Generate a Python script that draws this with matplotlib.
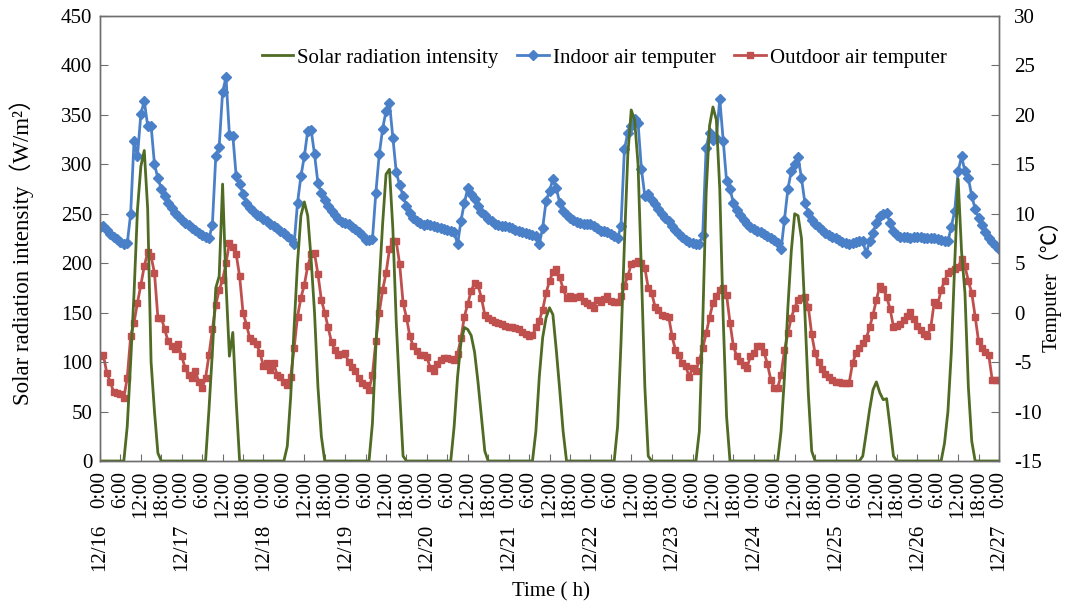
import matplotlib
matplotlib.use('Agg')
import matplotlib.pyplot as plt
import numpy as np
from matplotlib.transforms import blended_transform_factory
from matplotlib.lines import Line2D

# ---------------- data (hourly, 12/16 0:00 -> 12/27 0:00) ----------------
dates = ['12/16', '12/17', '12/18', '12/19', '12/20', '12/21',
         '12/22', '12/23', '12/24', '12/25', '12/26', '12/27']
hour_labels = ['0:00', '6:00', '12:00', '18:00']

solar = [
    0, 0, 0, 0, 0, 0, 0, 0, 35, 100, 170, 254, 298, 314, 255, 100, 50, 8, 0, 0, 0, 0, 0, 0,
    0, 0, 0, 0, 0, 0, 0, 0, 52, 110, 175, 187, 280, 180, 106, 130, 60, 0, 0, 0, 0, 0, 0, 0,
    0, 0, 0, 0, 0, 0, 0, 15, 65, 135, 200, 248, 262, 248, 204, 150, 75, 25, 0, 0, 0, 0, 0, 0,
    0, 0, 0, 0, 0, 0, 0, 0, 38, 115, 180, 240, 290, 295, 235, 140, 69, 5, 0, 0, 0, 0, 0, 0,
    0, 0, 0, 0, 0, 0, 0, 0, 35, 85, 120, 135, 133, 127, 110, 80, 45, 10, 0, 0, 0, 0, 0, 0,
    0, 0, 0, 0, 0, 0, 0, 0, 30, 85, 125, 145, 155, 148, 112, 72, 30, 0, 0, 0, 0, 0, 0, 0,
    0, 0, 0, 0, 0, 0, 0, 0, 35, 120, 220, 310, 355, 345, 300, 190, 75, 5, 0, 0, 0, 0, 0, 0,
    0, 0, 0, 0, 0, 0, 0, 0, 30, 140, 271, 339, 358, 345, 275, 145, 45, 0, 0, 0, 0, 0, 0, 0,
    0, 0, 0, 0, 0, 0, 0, 0, 30, 85, 155, 212, 250, 248, 225, 150, 69, 10, 0, 0, 0, 0, 0, 0,
    0, 0, 0, 0, 0, 0, 0, 0, 5, 28, 52, 72, 80, 69, 62, 63, 35, 5, 0, 0, 0, 0, 0, 0,
    0, 0, 0, 0, 0, 0, 0, 0, 18, 50, 110, 200, 285, 212, 170, 75, 20, 0, 0, 0, 0, 0, 0, 0,
    0,
]

indoor = [
    8.7, 8.8, 8.4, 8.0, 7.7, 7.4, 7.1, 6.9, 7.0, 10.0, 17.4, 15.8, 20.1, 21.4, 18.9, 18.9, 15.0, 13.6, 12.5, 11.8, 11.1, 10.6, 10.1, 9.8,
    9.4, 9.1, 8.85, 8.6, 8.4, 8.1, 7.9, 7.7, 7.5, 8.9, 15.8, 16.8, 22.3, 23.8, 18.0, 17.9, 13.8, 13.0, 12.0, 11.1, 10.6, 10.3, 9.9, 9.8,
    9.5, 9.3, 9.0, 8.75, 8.6, 8.3, 8.1, 7.8, 7.4, 6.9, 11.1, 13.8, 15.8, 18.4, 18.5, 16.0, 13.1, 12.1, 11.4, 10.8, 10.3, 9.9, 9.5, 9.2,
    9.1, 8.95, 8.7, 8.5, 8.2, 7.9, 7.3, 7.3, 7.4, 12.1, 16.0, 18.6, 20.4, 21.2, 17.7, 14.2, 12.9, 11.8, 10.8, 10.1, 9.6, 9.3, 9.1, 8.9,
    9.0, 8.85, 8.75, 8.7, 8.6, 8.5, 8.4, 8.3, 8.2, 6.9, 9.3, 11.1, 12.6, 12.0, 11.5, 10.8, 10.2, 9.9, 9.5, 9.3, 9.0, 8.9, 8.8, 8.75,
    8.7, 8.6, 8.4, 8.3, 8.2, 8.1, 8.0, 7.9, 7.8, 6.9, 8.6, 11.3, 12.3, 13.5, 12.6, 11.1, 10.3, 9.9, 9.6, 9.4, 9.2, 9.1, 9.0, 9.0,
    9.0, 8.8, 8.6, 8.3, 8.3, 8.2, 8.0, 7.8, 7.5, 8.8, 16.5, 18.2, 18.9, 19.6, 19.2, 14.5, 11.8, 12.0, 11.4, 11.0, 10.5, 10.0, 9.6, 9.3,
    8.8, 8.4, 8.0, 7.7, 7.3, 7.1, 7.0, 6.9, 6.9, 7.9, 16.7, 18.2, 17.5, 17.7, 21.6, 17.4, 13.3, 12.5, 11.1, 10.4, 9.9, 9.4, 9.0, 8.7,
    8.5, 8.3, 8.2, 8.0, 7.8, 7.6, 7.3, 7.0, 6.4, 9.4, 12.5, 14.3, 15.0, 15.7, 13.6, 11.1, 10.1, 9.4, 9.0, 8.7, 8.4, 8.1, 7.9, 7.7,
    7.5, 7.3, 7.1, 7.0, 6.9, 7.0, 7.1, 7.2, 7.2, 6.0, 7.2, 8.1, 9.1, 9.8, 10.0, 10.1, 9.1, 8.3, 7.9, 7.7, 7.7, 7.7, 7.6, 7.7,
    7.7, 7.7, 7.6, 7.6, 7.5, 7.5, 7.4, 7.3, 7.2, 7.2, 8.7, 10.3, 14.3, 15.8, 14.3, 13.6, 11.8, 10.5, 9.6, 8.9, 8.2, 7.6, 7.1, 6.7,
    6.4,
]

outdoor = [
    -4.4, -4.3, -6.1, -7.0, -8.0, -8.1, -8.2, -8.6, -6.6, -2.4, -1.0, 1.0, 2.8, 4.7, 6.1, 5.7, 4.0, -0.5, -0.5, -1.7, -2.9, -3.4, -3.7, -3.2,
    -4.4, -5.6, -6.3, -6.6, -5.9, -7.0, -7.6, -6.6, -4.3, -1.7, 0.8, 2.3, 3.3, 5.0, 7.0, 6.6, 5.9, 3.7, 0.0, -1.2, -2.6, -2.9, -3.2, -4.1,
    -5.4, -5.1, -5.8, -5.1, -6.3, -6.5, -7.0, -7.3, -6.5, -3.6, -0.4, 1.5, 2.8, 4.7, 5.9, 6.0, 3.9, 1.3, 0.0, -1.5, -3.0, -3.8, -4.3, -4.2,
    -4.1, -5.0, -5.5, -5.9, -6.6, -7.1, -7.3, -7.8, -6.3, -2.9, 0.0, 2.3, 4.0, 6.4, 7.2, 7.2, 4.9, 1.0, -0.5, -2.4, -3.4, -3.9, -4.3, -4.3,
    -4.5, -5.6, -5.9, -5.2, -4.8, -4.6, -4.6, -4.7, -4.8, -4.2, -2.6, -0.4, 0.9, 2.2, 3.0, 2.8, 1.5, -0.2, -0.5, -0.7, -0.9, -1.0, -1.1, -1.3,
    -1.4, -1.5, -1.6, -1.7, -2.0, -2.2, -2.4, -2.3, -1.5, -0.8, 0.3, 2.0, 3.2, 4.1, 4.4, 3.6, 2.4, 1.5, 1.7, 1.5, 1.6, 1.7, 1.2, 1.0,
    0.8, 0.5, 1.3, 1.1, 1.4, 1.7, 1.2, 1.1, 1.1, 1.7, 2.7, 3.7, 4.9, 5.0, 5.2, 5.0, 4.5, 2.5, 2.0, 0.6, 0.3, -0.2, -0.3, -0.4,
    -2.4, -3.8, -4.3, -5.1, -5.4, -6.5, -5.6, -5.9, -4.8, -3.6, -2.1, -0.5, 1.0, 1.7, 2.3, 2.5, 1.8, -1.0, -3.4, -4.4, -4.9, -5.3, -5.6, -4.4,
    -4.1, -3.4, -3.4, -4.0, -5.2, -6.8, -7.6, -7.6, -6.3, -3.8, -2.1, -0.5, 0.5, 1.3, 1.5, 1.6, 0.6, -2.2, -4.1, -5.0, -5.7, -6.2, -6.5, -6.8,
    -7.0, -7.0, -7.1, -7.1, -7.1, -5.1, -4.1, -3.6, -3.1, -2.6, -1.5, -0.2, 1.3, 2.7, 2.4, 1.6, 0.4, -1.4, -1.3, -1.1, -0.7, -0.3, 0.1, -0.6,
    -1.3, -1.8, -2.2, -2.4, -1.4, 1.1, 0.8, 2.3, 3.2, 4.0, 4.2, 4.4, 4.6, 5.4, 4.7, 3.2, 2.0, -0.4, -2.9, -3.6, -4.0, -4.3, -6.8, -6.8,
    -6.8,
]

hours = np.arange(len(indoor))

# ---------------- style ----------------
plt.rcParams['font.family'] = ['Liberation Serif', 'Noto Sans CJK SC', 'DejaVu Sans']
plt.rcParams['axes.unicode_minus'] = False
GREEN = '#4F6B24'
BLUE = '#4A80C8'
RED = '#C0504D'
SPINE = '#6E6E6E'
FS = 15

fig = plt.figure(figsize=(10.67, 6.01), dpi=100)
ax = fig.add_axes([100 / 1067, 1 - 461 / 601, 899 / 1067, 445 / 601])
ax2 = ax.twinx()
ax.set_zorder(ax2.get_zorder() + 1)
ax.patch.set_visible(False)

ax2.plot(hours, indoor, color=BLUE, lw=2.0, marker='D', ms=5.0, mec=BLUE, mfc=BLUE)
ax2.plot(hours, outdoor, color=RED, lw=2.0, marker='s', ms=5.0, mec=RED, mfc=RED)
ax.plot(hours, solar, color=GREEN, lw=2.0)

ax.set_xlim(0, hours[-1])
ax.set_ylim(0, 450)
ax2.set_ylim(-15, 30)
ax.set_yticks(np.arange(0, 451, 50))
ax2.set_yticks(np.arange(-15, 31, 5))

xt = np.arange(0, hours[-1] + 1, 6)
ax.set_xticks(xt)
ax.set_xticklabels([hour_labels[(int(t) // 6) % 4] for t in xt])

ax.tick_params(axis='x', direction='in', length=5, labelsize=FS, labelrotation=90,
               pad=7, color=SPINE)
ax.tick_params(axis='y', direction='in', length=6, labelsize=FS, pad=5.5, color=SPINE)
ax2.tick_params(axis='y', direction='in', length=6, labelsize=FS, pad=11, color=SPINE)
for a in (ax, ax2):
    for s in a.spines.values():
        s.set_color(SPINE)
        s.set_linewidth(1.0)

trans = blended_transform_factory(ax.transData, ax.transAxes)
for i, d in enumerate(dates):
    ax.text(i * 24, -0.14, d, transform=trans, rotation=90, ha='center', va='top',
            fontsize=FS)

fig.text(551 / 1067, 1 - 592 / 601, 'Time ( h)', ha='center', va='center', fontsize=FS)
fig.text(22 / 1067, 1 - 246 / 601, 'Solar radiation intensity（W/m²）', rotation=90,
         ha='center', va='center', fontsize=16.5)
fig.text(1050 / 1067, 1 - 281 / 601, 'Temputer（℃）', rotation=90,
         ha='center', va='center', fontsize=FS)

handles = [
    Line2D([], [], color=GREEN, lw=2.0),
    Line2D([], [], color=BLUE, lw=2.0, marker='D', ms=5.0),
    Line2D([], [], color=RED, lw=2.0, marker='s', ms=5.0),
]
labels = ['Solar radiation intensity', 'Indoor air temputer', 'Outdoor air temputer']
ax.legend(handles, labels, ncol=3, loc='center', bbox_to_anchor=(0.561, 0.906),
          frameon=False, fontsize=FS, handlelength=1.5, handletextpad=0.2,
          columnspacing=0.9, numpoints=1)

fig.savefig('out.png', dpi=100)
